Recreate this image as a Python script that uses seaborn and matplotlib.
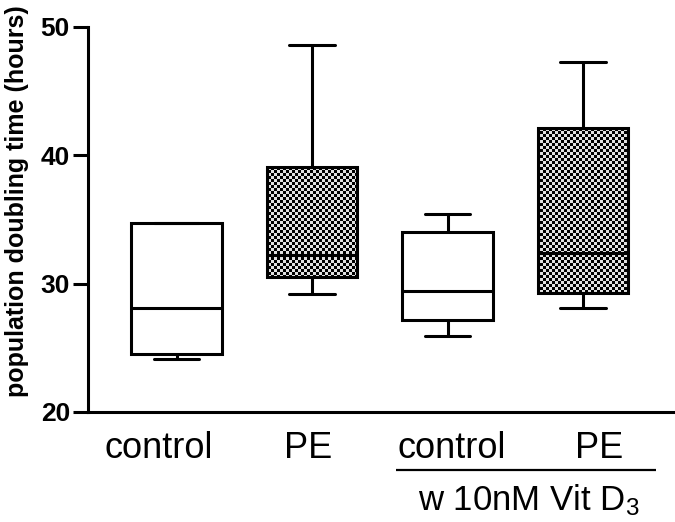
import numpy as np
import pandas as pd
import matplotlib

matplotlib.use("Agg")
import matplotlib.pyplot as plt
import matplotlib.transforms as mtransforms
import seaborn as sns

# five-number summaries (min, Q1, median, Q3, max)
groups = ["control", "PE", "control_vd", "PE_vd"]
tick_labels = ["control", "PE", "control", "PE"]
ctrl_vals = [24.1, 24.5, 28.1, 34.7, 34.7]
pe_vals = [29.2, 30.5, 32.2, 39.1, 48.6]
ctrl_vd_vals = [25.9, 27.2, 29.4, 34.0, 35.4]
pe_vd_vals = [28.1, 29.3, 32.4, 42.1, 47.3]
patterned = ["PE", "PE_vd"]

df = pd.DataFrame({
    "group": np.repeat(groups, 5),
    "hours": ctrl_vals + pe_vals + ctrl_vd_vals + pe_vd_vals,
})

sns.set_theme(style="ticks")
plt.rcParams["font.family"] = ["Liberation Sans", "DejaVu Sans"]

LW = 2.2
fig = plt.figure(figsize=(6.75, 5.22), dpi=100)
ax = fig.add_axes([88 / 675, 110 / 522, 587 / 675, 385 / 522])

sns.boxplot(
    data=df, x="group", y="hours", order=groups,
    whis=(0, 100), width=0.67, color="white",
    linecolor="black", linewidth=LW, ax=ax,
)

ax.set_xlim(-0.655, 3.68)
ax.set_ylim(20, 50)
ax.set_yticks([20, 30, 40, 50])

# checkered fill for the PE boxes
boxes = [p for p in ax.patches]
ny, nx = 129, 196
checker = (np.add.outer(np.arange(ny), np.arange(nx)) % 2).astype(float) * 0.88
for name, patch in zip(groups, boxes):
    patch.set_zorder(2)
    if name in patterned:
        patch.set_facecolor("none")
        img = ax.imshow(checker, cmap="gray", vmin=0, vmax=1,
                        extent=(*ax.get_xlim(), *ax.get_ylim()),
                        aspect="auto", interpolation="nearest", zorder=1.5)
        img.set_clip_path(patch)
ax.set_xlim(-0.655, 3.68)
ax.set_ylim(20, 50)

sns.despine(ax=ax)
for side in ["left", "bottom"]:
    ax.spines[side].set_linewidth(LW)
    ax.spines[side].set_color("black")

ax.set_xticks(range(len(groups)))
ax.set_xticklabels(tick_labels, fontsize=26)
ax.tick_params(axis="x", length=0, pad=14, colors="black")
ax.tick_params(axis="y", length=11, width=LW, pad=2, colors="black")
for t in ax.get_yticklabels():
    t.set_fontsize(19)
    t.set_fontweight("bold")

# labels in the original sit a little spread out from the box centres
shifts = [-18, -4, 4, 16]
for t, dx in zip(ax.get_xticklabels(), shifts):
    t.set_transform(t.get_transform() +
                    mtransforms.ScaledTranslation(dx / 100, 0, fig.dpi_scale_trans))

ax.set_xlabel("")
ax.set_ylabel("population doubling time (hours)", fontsize=18,
              fontweight="bold", color="black")
ax.yaxis.set_label_coords(-0.101, 0.548)

# bracket under the vitamin D groups
ax.plot([1.62, 3.54], [15.5, 15.5], color="black", lw=1.6,
        clip_on=False, solid_capstyle="butt")
ax.text(2.60, 14.5, r"w 10nM Vit D$\mathregular{_3}$", fontsize=25,
        ha="center", va="top", color="black")

fig.savefig("out.png", dpi=100)
